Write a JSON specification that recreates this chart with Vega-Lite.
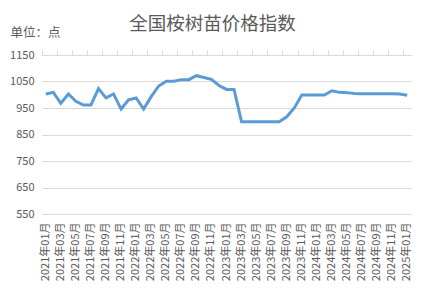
{
  "$schema": "https://vega.github.io/schema/vega-lite/v6.json",
  "autosize": "none",
  "width": 369,
  "height": 159,
  "padding": {"left": 42, "top": 55, "right": 14, "bottom": 77},
  "background": "white",
  "title": {
    "text": "全国桉树苗价格指数",
    "fontSize": 18.5,
    "fontWeight": "normal",
    "color": "#595959",
    "font": "Noto Sans CJK SC",
    "anchor": "middle",
    "dx": -14,
    "offset": -7
  },
  "config": {
    "view": {"stroke": null},
    "font": "Noto Sans CJK SC"
  },
  "data": {
    "values": [
      {"month": "2021年01月", "value": 1003},
      {"month": "2021年02月", "value": 1009},
      {"month": "2021年03月", "value": 968},
      {"month": "2021年04月", "value": 1003},
      {"month": "2021年05月", "value": 975},
      {"month": "2021年06月", "value": 961},
      {"month": "2021年07月", "value": 961},
      {"month": "2021年08月", "value": 1023},
      {"month": "2021年09月", "value": 988},
      {"month": "2021年10月", "value": 1003},
      {"month": "2021年11月", "value": 946},
      {"month": "2021年12月", "value": 981},
      {"month": "2022年01月", "value": 988},
      {"month": "2022年02月", "value": 946},
      {"month": "2022年03月", "value": 993},
      {"month": "2022年04月", "value": 1033},
      {"month": "2022年05月", "value": 1051},
      {"month": "2022年06月", "value": 1051},
      {"month": "2022年07月", "value": 1057},
      {"month": "2022年08月", "value": 1057},
      {"month": "2022年09月", "value": 1072},
      {"month": "2022年10月", "value": 1065},
      {"month": "2022年11月", "value": 1058},
      {"month": "2022年12月", "value": 1035},
      {"month": "2023年01月", "value": 1020},
      {"month": "2023年02月", "value": 1020},
      {"month": "2023年03月", "value": 898},
      {"month": "2023年04月", "value": 898},
      {"month": "2023年05月", "value": 898},
      {"month": "2023年06月", "value": 898},
      {"month": "2023年07月", "value": 898},
      {"month": "2023年08月", "value": 898},
      {"month": "2023年09月", "value": 917},
      {"month": "2023年10月", "value": 950},
      {"month": "2023年11月", "value": 999},
      {"month": "2023年12月", "value": 999},
      {"month": "2024年01月", "value": 999},
      {"month": "2024年02月", "value": 999},
      {"month": "2024年03月", "value": 1015},
      {"month": "2024年04月", "value": 1009},
      {"month": "2024年05月", "value": 1008},
      {"month": "2024年06月", "value": 1005},
      {"month": "2024年07月", "value": 1004},
      {"month": "2024年08月", "value": 1004},
      {"month": "2024年09月", "value": 1004},
      {"month": "2024年10月", "value": 1004},
      {"month": "2024年11月", "value": 1004},
      {"month": "2024年12月", "value": 1003},
      {"month": "2025年01月", "value": 998}
    ]
  },
  "encoding": {
    "y": {
      "field": "value",
      "type": "quantitative",
      "scale": {"domain": [550, 1150], "nice": false, "zero": false},
      "axis": {
        "title": "单位：点",
        "titleAngle": 0,
        "titleAlign": "left",
        "titleBaseline": "middle",
        "titleX": -32,
        "titleY": -23,
        "titleFontSize": 12.5,
        "titleFontWeight": "normal",
        "titleColor": "#595959",
        "values": [550, 650, 750, 850, 950, 1050, 1150],
        "format": "d",
        "labelOverlap": false,
        "labelFontSize": 11,
        "labelColor": "#595959",
        "labelPadding": 8,
        "ticks": false,
        "domain": false,
        "grid": true,
        "gridColor": "#d9d9d9",
        "gridWidth": 1
      }
    }
  },
  "layer": [
    {
      "mark": {"type": "line", "color": "#5b9bd5", "strokeWidth": 3},
      "encoding": {
        "x": {
          "field": "month",
          "type": "ordinal",
          "sort": null,
          "scale": {"type": "band", "paddingInner": 0, "paddingOuter": 0},
          "axis": {
            "title": null,
            "values": ["2021年01月","2021年03月","2021年05月","2021年07月","2021年09月","2021年11月","2022年01月","2022年03月","2022年05月","2022年07月","2022年09月","2022年11月","2023年01月","2023年03月","2023年05月","2023年07月","2023年09月","2023年11月","2024年01月","2024年03月","2024年05月","2024年07月","2024年09月","2024年11月","2025年01月"],
            "labelAngle": -90,
            "labelAlign": "right",
            "labelBaseline": "middle",
            "labelFontSize": 11,
            "labelColor": "#595959",
            "labelPadding": 8,
            "labelOverlap": false,
            "ticks": false,
            "domain": false,
            "grid": false
          }
        }
      }
    },
    {
      "mark": {"type": "line", "opacity": 0},
      "encoding": {
        "x": {
          "field": "month",
          "type": "ordinal",
          "sort": null,
          "axis": {
            "title": null,
            "values": ["2021年01月","2021年03月","2021年05月","2021年07月","2021年09月","2021年11月","2022年01月","2022年03月","2022年05月","2022年07月","2022年09月","2022年11月","2023年01月","2023年03月","2023年05月","2023年07月","2023年09月","2023年11月","2024年01月","2024年03月","2024年05月","2024年07月","2024年09月","2024年11月","2025年01月"],
            "bandPosition": 0,
            "labels": false,
            "ticks": true,
            "tickColor": "#d9d9d9",
            "tickSize": 5,
            "domain": true,
            "domainColor": "#d9d9d9",
            "grid": false
          }
        }
      }
    }
  ],
  "resolve": {"axis": {"x": "independent"}}
}
